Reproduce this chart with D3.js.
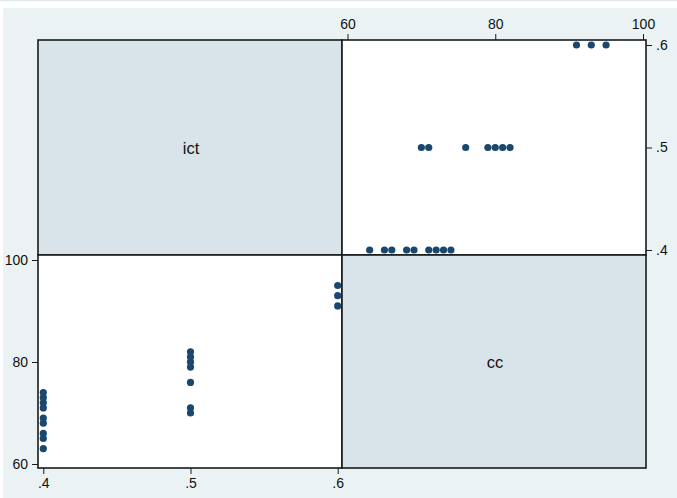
<!DOCTYPE html>
<html>
<head>
<meta charset="utf-8">
<script src="https://cdn.jsdelivr.net/npm/d3@7"></script>
<style>
  html, body { margin: 0; padding: 0; background: #fff; }
  svg { display: block; font-family: Arial, 'Liberation Sans', sans-serif; }
</style>
</head>
<body>
<div id="chart"></div>
<script>
// scatter matrix of ict vs cc (Stata-style graph matrix)
const VARS = ['ict', 'cc'];
const ICT = [0.4, 0.4, 0.4, 0.4, 0.4, 0.4, 0.4, 0.4, 0.4,
             0.5, 0.5, 0.5, 0.5, 0.5, 0.5, 0.5,
             0.6, 0.6, 0.6];
const CC  = [63, 65, 66, 68, 69, 71, 72, 73, 74,
             70, 71, 76, 79, 80, 81, 82,
             91, 93, 95];
const ICT_TICKS = [0.4, 0.5, 0.6];
const CC_TICKS  = [60, 80, 100];

const W = 677, H = 498;
const BG = '#EAF2F3';
const DIAG = '#D9E4EA';
const NAVY = '#1A476F';
const FRAME = '#1a1a1a';

// panel grid edges
const L = 38, M = 342, R = 646;
const T = 40, MY = 255, B = 468;

const svg = d3.select('#chart').append('svg')
  .attr('width', W).attr('height', H);

// outer region
svg.append('rect').attr('width', W).attr('height', H).attr('fill', '#fff');
svg.append('rect').attr('x', 0).attr('y', 0).attr('width', W).attr('height', 1.2).attr('fill', '#dfe8ec');
svg.append('rect').attr('x', 3).attr('y', 8).attr('width', W - 3).attr('height', H - 8).attr('fill', BG);

// scales, one per variable per direction
const xIct = d3.scaleLinear().domain([0.4, 0.6]).range([L + 5.3, M - 4.3]);
const xCc  = d3.scaleLinear().domain([60, 100]).range([M + 5.5, R - 3]);
const yIct = d3.scaleLinear().domain([0.4, 0.6]).range([MY - 5, T + 5]);
const yCc  = d3.scaleLinear().domain([60, 100]).range([B - 4, MY + 5]);

const fmtIct = d => d3.format('.1f')(d).replace(/^0/, '');

// panels
const panels = [
  { x: L, y: T,  w: M - L, h: MY - T, fill: DIAG, label: VARS[0] },
  { x: M, y: T,  w: R - M, h: MY - T, fill: '#fff' },
  { x: L, y: MY, w: M - L, h: B - MY, fill: '#fff' },
  { x: M, y: MY, w: R - M, h: B - MY, fill: DIAG, label: VARS[1] }
];

svg.selectAll('rect.panel')
  .data(panels)
  .join('rect')
  .attr('class', 'panel')
  .attr('x', d => d.x).attr('y', d => d.y)
  .attr('width', d => d.w).attr('height', d => d.h)
  .attr('fill', d => d.fill)
  .attr('stroke', FRAME)
  .attr('stroke-width', 1.6);

svg.selectAll('text.varname')
  .data(panels.filter(p => p.label))
  .join('text')
  .attr('class', 'varname')
  .attr('x', d => d.x + d.w / 2 + 1)
  .attr('y', d => d.y + d.h / 2 + 6)
  .attr('text-anchor', 'middle')
  .attr('font-size', 16.5)
  .attr('fill', '#111')
  .text(d => d.label);

const pts = ICT.map((v, i) => ({ ict: v, cc: CC[i] }));

// top-right: x = cc, y = ict
svg.append('g').selectAll('circle')
  .data(pts)
  .join('circle')
  .attr('cx', d => xCc(d.cc))
  .attr('cy', d => yIct(d.ict))
  .attr('r', 3.6)
  .attr('fill', NAVY);

// bottom-left: x = ict, y = cc
svg.append('g').selectAll('circle')
  .data(pts)
  .join('circle')
  .attr('cx', d => xIct(d.ict))
  .attr('cy', d => yCc(d.cc))
  .attr('r', 3.6)
  .attr('fill', NAVY);

// axes
function styleAxis(g) {
  g.select('.domain').remove();
  g.selectAll('.tick line').attr('stroke', FRAME).attr('stroke-width', 1);
  g.selectAll('.tick text').attr('fill', '#111').attr('font-size', 14)
    .attr('font-family', "Arial, 'Liberation Sans', sans-serif");
}

svg.append('g')
  .attr('transform', `translate(0,${T})`)
  .call(d3.axisTop(xCc).tickValues(CC_TICKS).tickSize(6).tickPadding(5))
  .call(styleAxis);

svg.append('g')
  .attr('transform', `translate(${L},0)`)
  .call(d3.axisLeft(yCc).tickValues(CC_TICKS).tickSize(6).tickPadding(4))
  .call(styleAxis);

svg.append('g')
  .attr('transform', `translate(0,${B})`)
  .call(d3.axisBottom(xIct).tickValues(ICT_TICKS).tickFormat(fmtIct).tickSize(6).tickPadding(4))
  .call(styleAxis);

svg.append('g')
  .attr('transform', `translate(${R},0)`)
  .call(d3.axisRight(yIct).tickValues(ICT_TICKS).tickFormat(fmtIct).tickSize(6).tickPadding(4))
  .call(styleAxis);
</script>
</body>
</html>
